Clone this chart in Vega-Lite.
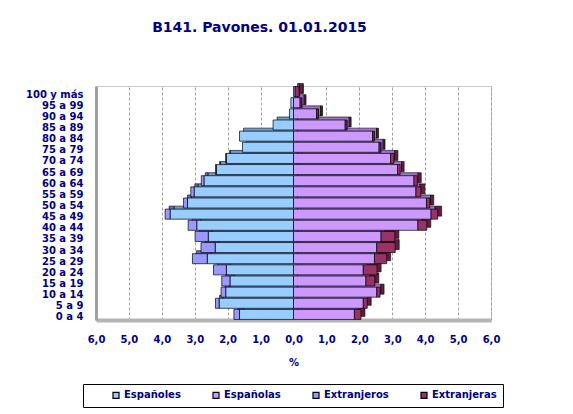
{
  "$schema": "https://vega.github.io/schema/vega-lite/v6.json",
  "width": 395,
  "height": 234,
  "autosize": {"type": "none"},
  "padding": {"left": 96, "top": 86, "right": 82, "bottom": 94},
  "background": "white",
  "config": {"view": {"stroke": "#c8c8c8", "strokeWidth": 1}},
  "title": {"text": "B141. Pavones. 01.01.2015", "font": "DejaVu Sans", "fontSize": 14, "fontWeight": "bold", "color": "#000080", "offset": 48, "dx": -34},
  "data": {"values": [
    {"edad": "100 y más", "Españoles": 0, "Extranjeros": 0, "Españolas": 0.05, "Extranjeras": 0.12},
    {"edad": "95 a 99", "Españoles": -0.08, "Extranjeros": 0, "Españolas": 0.2, "Extranjeras": 0.05},
    {"edad": "90 a 94", "Españoles": -0.12, "Extranjeros": 0, "Españolas": 0.7, "Extranjeras": 0.05},
    {"edad": "85 a 89", "Españoles": -0.62, "Extranjeros": 0, "Españolas": 1.57, "Extranjeras": 0.05},
    {"edad": "80 a 84", "Españoles": -1.64, "Extranjeros": 0, "Españolas": 2.4, "Extranjeras": 0.05},
    {"edad": "75 a 79", "Españoles": -1.55, "Extranjeros": 0, "Españolas": 2.6, "Extranjeras": 0.05},
    {"edad": "70 a 74", "Españoles": -2.04, "Extranjeros": -0.02, "Españolas": 2.95, "Extranjeras": 0.1},
    {"edad": "65 a 69", "Españoles": -2.34, "Extranjeros": -0.03, "Españolas": 3.16, "Extranjeras": 0.08},
    {"edad": "60 a 64", "Españoles": -2.72, "Extranjeros": -0.08, "Españolas": 3.66, "Extranjeras": 0.1},
    {"edad": "55 a 59", "Españoles": -3.02, "Extranjeros": -0.1, "Españolas": 3.72, "Extranjeras": 0.15},
    {"edad": "50 a 54", "Españoles": -3.22, "Extranjeros": -0.12, "Españolas": 4.04, "Extranjeras": 0.1},
    {"edad": "45 a 49", "Españoles": -3.75, "Extranjeros": -0.15, "Españolas": 4.18, "Extranjeras": 0.2},
    {"edad": "40 a 44", "Españoles": -2.94, "Extranjeros": -0.26, "Españolas": 3.78, "Extranjeras": 0.27},
    {"edad": "35 a 39", "Españoles": -2.59, "Extranjeros": -0.4, "Españolas": 2.66, "Extranjeras": 0.42},
    {"edad": "30 a 34", "Españoles": -2.38, "Extranjeros": -0.43, "Españolas": 2.53, "Extranjeras": 0.56},
    {"edad": "25 a 29", "Españoles": -2.62, "Extranjeros": -0.45, "Españolas": 2.46, "Extranjeras": 0.37},
    {"edad": "20 a 24", "Españoles": -2.04, "Extranjeros": -0.39, "Españolas": 2.12, "Extranjeras": 0.42},
    {"edad": "15 a 19", "Españoles": -1.93, "Extranjeros": -0.25, "Españolas": 2.2, "Extranjeras": 0.27},
    {"edad": "10 a 14", "Españoles": -2.06, "Extranjeros": -0.14, "Españolas": 2.53, "Extranjeras": 0.1},
    {"edad": "5 a 9", "Españoles": -2.26, "Extranjeros": -0.11, "Españolas": 2.12, "Extranjeras": 0.12},
    {"edad": "0 a 4", "Españoles": -1.64, "Extranjeros": -0.17, "Españolas": 1.85, "Extranjeras": 0.2}
  ]},
  "transform": [{"fold": ["Españoles", "Españolas", "Extranjeros", "Extranjeras"], "as": ["grupo", "valor"]}],
  "encoding": {
    "y": {
      "field": "edad", "type": "nominal",
      "sort": ["100 y más", "95 a 99", "90 a 94", "85 a 89", "80 a 84", "75 a 79", "70 a 74", "65 a 69", "60 a 64", "55 a 59", "50 a 54", "45 a 49", "40 a 44", "35 a 39", "30 a 34", "25 a 29", "20 a 24", "15 a 19", "10 a 14", "5 a 9", "0 a 4"],
      "scale": {"paddingInner": 0.1, "paddingOuter": 0.05},
      "axis": {"title": null, "ticks": false, "labelPadding": 13, "labelOffset": 3, "labelFont": "DejaVu Sans", "labelFontSize": 10, "labelFontWeight": "bold", "labelColor": "#000080", "domainColor": "#a0a0a0", "domainWidth": 3}
    },
    "x": {
      "field": "valor", "type": "quantitative", "stack": "zero",
      "scale": {"domain": [-6, 6]},
      "axis": {"values": [-6, -5, -4, -3, -2, -1, 0, 1, 2, 3, 4, 5, 6], "labelExpr": "replace(format(abs(datum.value), '.1f'), '.', ',')", "labelFlush": false, "title": "%", "titleFont": "DejaVu Sans", "titleFontSize": 10, "titleFontWeight": "bold", "titleColor": "#000080", "titlePadding": 13, "ticks": false, "labelPadding": 14, "labelFont": "DejaVu Sans", "labelFontSize": 10, "labelFontWeight": "bold", "labelColor": "#000080", "grid": true, "gridDash": [3, 2], "gridColor": "#a0a0a0", "domainColor": "#b4b4b4", "domainWidth": 4}
    }
  },
  "layer": [
    {
      "mark": {"type": "bar", "xOffset": 4, "yOffset": -3, "stroke": "black", "strokeWidth": 0.6},
      "encoding": {
        "color": {"field": "grupo", "type": "nominal", "legend": null,
          "scale": {"domain": ["Españoles", "Españolas", "Extranjeros", "Extranjeras"], "range": ["#6f9bc7", "#9f70cf", "#6b6bcf", "#5f1f40"]}}
      }
    },
    {
      "mark": {"type": "bar", "stroke": "black", "strokeWidth": 0.7},
      "encoding": {
        "color": {"field": "grupo", "type": "nominal",
          "scale": {"domain": ["Españoles", "Españolas", "Extranjeros", "Extranjeras"], "range": ["#99ccff", "#cc99ff", "#9999ff", "#993366"]},
          "legend": {"title": " ", "titleOrient": "left", "titlePadding": 22, "titleFontSize": 10, "orient": "none", "legendX": -13, "legendY": 298, "direction": "horizontal", "columns": 4, "columnPadding": 29, "gridAlign": "each", "padding": 6, "strokeColor": "black", "symbolType": "square", "symbolSize": 36, "symbolStrokeColor": "black", "symbolStrokeWidth": 1.2, "labelOffset": 3, "labelFont": "DejaVu Sans", "labelFontSize": 10, "labelFontWeight": "bold", "labelColor": "#000080"}
        }
      }
    }
  ],
  "resolve": {"scale": {"color": "independent"}}
}
